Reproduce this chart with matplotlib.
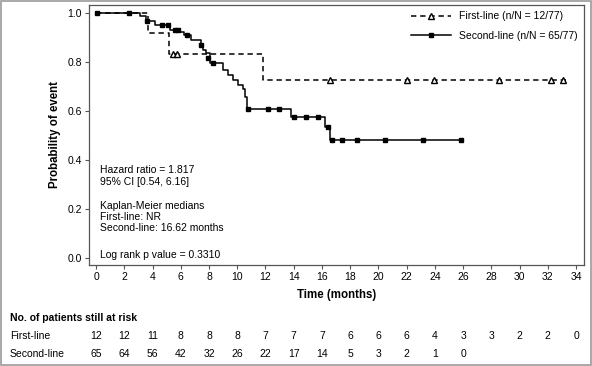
import numpy as np
import matplotlib.pyplot as plt
import matplotlib.transforms as mtransforms
from matplotlib.patches import Rectangle

plt.rcParams['font.family'] = ['Liberation Sans', 'DejaVu Sans']

# Kaplan-Meier step curves (time in months, probability)
first_t = [0, 3.7, 5.17, 11.8, 33.3]
first_p = [1.0, 0.917, 0.833, 0.729, 0.729]
first_cens_t = [5.42, 5.75, 16.55, 22.05, 23.96, 28.56, 32.2, 33.1]
first_cens_p = [0.833, 0.833, 0.729, 0.729, 0.729, 0.729, 0.729, 0.729]

second_t = [0, 3.1, 3.55, 4.15, 5.25, 5.95, 6.2, 6.7, 7.4, 7.6, 7.8, 8.1,
            9.0, 9.35, 9.7, 10.05, 10.4, 10.55, 10.7, 13.8, 16.2, 16.6, 25.8]
second_p = [1.0, 0.988, 0.969, 0.95, 0.933, 0.924, 0.91, 0.89, 0.87, 0.849,
            0.836, 0.795, 0.767, 0.747, 0.727, 0.706, 0.689, 0.659, 0.607,
            0.577, 0.536, 0.484, 0.484]
second_cens_t = [0.05, 2.36, 3.6, 4.65, 5.12, 5.6, 5.83, 6.42, 7.44, 7.95,
                 8.3, 10.79, 12.16, 12.96, 14.0, 14.85, 15.75, 16.45, 16.7,
                 17.44, 18.5, 20.47, 23.18, 25.82]
second_cens_p = [1.0, 1.0, 0.969, 0.95, 0.95, 0.933, 0.933, 0.91, 0.87, 0.816,
                 0.795, 0.607, 0.607, 0.607, 0.577, 0.577, 0.577, 0.536, 0.484,
                 0.484, 0.484, 0.484, 0.484, 0.484]

# Numbers at risk
risk_times = np.arange(0, 35, 2)
risk_first = [12, 12, 11, 8, 8, 8, 7, 7, 7, 6, 6, 6, 4, 3, 3, 2, 2, 0]
risk_second = [65, 64, 56, 42, 32, 26, 22, 17, 14, 5, 3, 2, 1, 0]

fs = 7.5

fig = plt.figure(figsize=(5.92, 3.66), dpi=100)
ax = fig.add_axes([89 / 592, 1 - 265 / 366, (584 - 89) / 592, (265 - 5) / 366])

dash = (0, (3.5, 2.5))
ax.step(first_t, first_p, where='post', color='black', lw=1.1, ls=dash)
ax.plot(first_cens_t, first_cens_p, ls='none', marker='^', ms=5,
        mfc='white', mec='black', mew=1)
ax.step(second_t, second_p, where='post', color='black', lw=1.1)
ax.plot(second_cens_t, second_cens_p, ls='none', marker='s', ms=3.4,
        color='black')

h1, = ax.plot([], [], color='black', lw=1.1, ls=dash, marker='^',
              ms=5, mfc='white', mec='black')
h2, = ax.plot([], [], color='black', lw=1.1, marker='s', ms=3.4)
ax.legend([h1, h2], ['First-line (n/N = 12/77)', 'Second-line (n/N = 65/77)'],
          loc='upper right', frameon=False, fontsize=fs, handlelength=3.8,
          borderaxespad=0.2, labelspacing=0.95)

ax.set_xlim(-0.5, 34.56)
ax.set_ylim(-0.027, 1.033)
ax.set_xticks(risk_times)
yt = np.arange(0, 1.01, 0.2)
ax.set_yticks(yt)
ax.set_yticklabels([f'{v:.1f}' for v in yt])
ax.tick_params(labelsize=fs, length=3, color='#555555', pad=2)
for s in ax.spines.values():
    s.set_color('#555555')
    s.set_linewidth(0.9)
ax.set_ylabel('Probability of event', fontsize=8.3, fontweight='bold', labelpad=5)
ax.set_xlabel('Time (months)', fontsize=8.3, fontweight='bold', labelpad=5)

stats = [(0.36, 'Hazard ratio = 1.817'), (0.313, '95% CI [0.54, 6.16]'),
         (0.213, 'Kaplan-Meier medians'), (0.168, 'First-line: NR'),
         (0.123, 'Second-line: 16.62 months'), (0.013, 'Log rank p value = 0.3310')]
for y, s in stats:
    ax.text(0.3, y, s, fontsize=fs, va='center', ha='left')

# at-risk table
fig.text(10 / 592, 1 - 318 / 366, 'No. of patients still at risk', fontsize=fs,
         fontweight='bold', va='center')
fig.text(10 / 592, 1 - 336 / 366, 'First-line', fontsize=fs, va='center')
fig.text(10 / 592, 1 - 354 / 366, 'Second-line', fontsize=fs, va='center')
blend = mtransforms.blended_transform_factory(ax.transData, fig.transFigure)
for t, n in zip(risk_times, risk_first):
    ax.text(t, 1 - 336 / 366, str(n), transform=blend, fontsize=fs,
            ha='center', va='center', clip_on=False)
for t, n in zip(risk_times, risk_second):
    ax.text(t, 1 - 354 / 366, str(n), transform=blend, fontsize=fs,
            ha='center', va='center', clip_on=False)

fig.patches.append(Rectangle((0.001, 0.002), 0.997, 0.996, transform=fig.transFigure,
                             fill=False, edgecolor='#999999', lw=1.2))

fig.savefig('out.png', dpi=100)
